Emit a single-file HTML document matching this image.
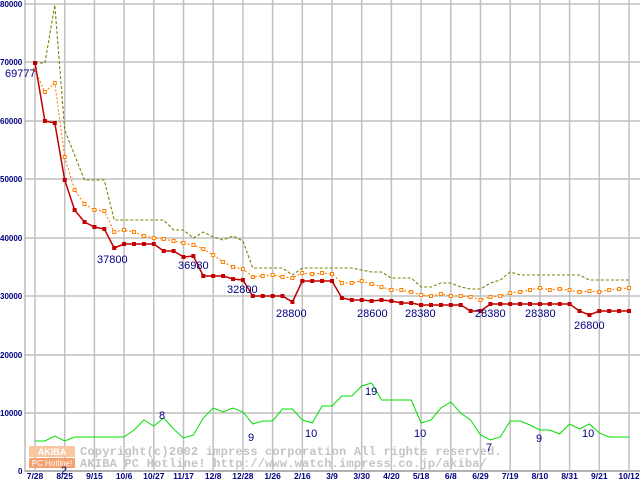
<!DOCTYPE html>
<html><head><meta charset="utf-8"><style>
body{margin:0;background:#fff}
svg{display:block;font-family:"Liberation Sans",sans-serif}
</style></head><body>
<svg id="c" width="640" height="480" viewBox="0 0 640 480" xmlns="http://www.w3.org/2000/svg">
<rect width="640" height="480" fill="#fff"/>
<g id="grid" stroke="#c0c0c0" stroke-width="1.5"></g>
<line x1="25" y1="0" x2="25" y2="472" stroke="#999" stroke-width="1"/>
<g id="ylab" fill="#000080" font-size="8" font-weight="bold"></g>
<g id="xlab" fill="#000080" font-size="8.5" font-weight="bold" text-anchor="middle"></g>
<g font-family="Liberation Mono,monospace" font-size="12" font-weight="bold" fill="#c4c4c4" letter-spacing="0.2">
<text x="80" y="455">Copyright(c)2002 impress corporation All rights reserved.</text>
<text x="80" y="467">AKIBA PC Hotline!  http://www.watch.impress.co.jp/akiba/</text>
</g>
<rect x="29" y="446" width="46" height="11" fill="#f7c8a0"/>
<rect x="29" y="458" width="46" height="10" fill="#f5a070"/>
<text x="52" y="455" font-size="9" font-weight="bold" fill="#fff" text-anchor="middle">AKIBA</text>
<text x="52" y="466" font-size="8" fill="#fff" text-anchor="middle">PC Hotline!</text>
<g id="series"></g>
<g fill="#000080" font-size="11">
<text x="5" y="77">69777</text><text x="97" y="263">37800</text><text x="178" y="269">36980</text>
<text x="227" y="293">32800</text><text x="276" y="317">28800</text><text x="357" y="317">28600</text>
<text x="405" y="317">28380</text><text x="475" y="317">28380</text><text x="525" y="317">28380</text>
<text x="574" y="329">26800</text>
<text x="159" y="419">8</text><text x="248" y="441">9</text><text x="305" y="437">10</text>
<text x="365" y="395">19</text><text x="414" y="437">10</text><text x="486" y="451">7</text>
<text x="536" y="442">9</text><text x="582" y="437">10</text><text x="61" y="474">2</text>
</g>
</svg>
<script>
const NS="http://www.w3.org/2000/svg";
function el(p,t,a,txt){const e=document.createElementNS(NS,t);for(const k in a)e.setAttribute(k,a[k]);if(txt!==undefined)e.textContent=txt;p.appendChild(e);return e;}
const g=document.getElementById('grid');
const ys=[4,62,121,179,238,296,355,413];
ys.forEach(y=>el(g,'line',{x1:25,y1:y,x2:640,y2:y}));
el(g,'line',{x1:25,y1:471,x2:640,y2:471,stroke:'#999'});
const xl=["7/28","8/25","9/15","10/6","10/27","11/17","12/8","12/28","1/26","2/16","3/9","3/30","4/20","5/18","6/8","6/29","7/19","8/10","8/31","9/21","10/12"];
const xlg=document.getElementById('xlab');
for(let i=0;i<21;i++){const x=35+i*29.7;el(g,'line',{x1:x,y1:0,x2:x,y2:471});el(xlg,'text',{x:x,y:479},xl[i]);}
const yl=document.getElementById('ylab');
["80000","70000","60000","50000","40000","30000","20000","10000"].forEach((t,i)=>el(yl,'text',{x:0,y:ys[i]+3},t));
el(yl,'text',{x:18,y:474},"0");
const X=i=>35+i*9.9;
const red=[63,121,123,180,210,222,227,229,248,244,244,244,244,251,251,257,256,276,276,276,279,280,296,296,296,296,302,281,281,281,281,298,300,300,301,300,301,303,303,305,305,305,305,305,311,311,304,304,304,304,304,304,304,304,304,311,315,311,311,311,311];
const org=[70,92,83,157,190,204,210,211,232,230,232,236,238,239,241,243,245,249,255,262,267,269,277,276,275,277,278,273,274,273,274,283,283,281,284,287,290,290,292,295,296,294,296,296,297,300,297,296,293,292,290,288,290,289,290,292,291,292,290,289,288];
const olv=[63,63,5,130,155,180,180,180,220,220,220,220,220,220,230,230,238,232,237,240,236,241,268,268,268,268,275,268,268,268,268,268,268,270,272,272,278,278,278,287,287,283,283,287,289,289,283,280,272,275,275,275,275,275,275,275,280,280,280,280,280];
const grn=[441,441,436,441,437,437,437,437,437,437,430,420,426,418,429,438,435,418,408,412,408,412,424,421,421,409,409,420,423,406,406,396,396,386,383,400,400,400,400,423,420,408,402,413,420,435,440,437,421,421,425,430,430,434,424,429,424,433,437,437,437];
const s=document.getElementById('series');
const pts=a=>a.map((y,i)=>X(i).toFixed(1)+","+y).join(" ");
el(s,'polyline',{points:pts(grn),fill:'none',stroke:'#00e000','stroke-width':1});
el(s,'polyline',{points:pts(olv),fill:'none',stroke:'#808000','stroke-width':1.1,'stroke-dasharray':'3,2'});
el(s,'polyline',{points:pts(org),fill:'none',stroke:'#ff8000','stroke-width':1.1,'stroke-dasharray':'2,2'});
org.forEach((y,i)=>el(s,'rect',{x:X(i)-1.5,y:y-1.5,width:3,height:3,fill:'#fff',stroke:'#ff8000','stroke-width':1}));
el(s,'polyline',{points:pts(red),fill:'none',stroke:'#c00000','stroke-width':1.5});
red.forEach((y,i)=>el(s,'rect',{x:X(i)-2,y:y-2,width:4,height:4,fill:'#c00000'}));
</script>
</body></html>
